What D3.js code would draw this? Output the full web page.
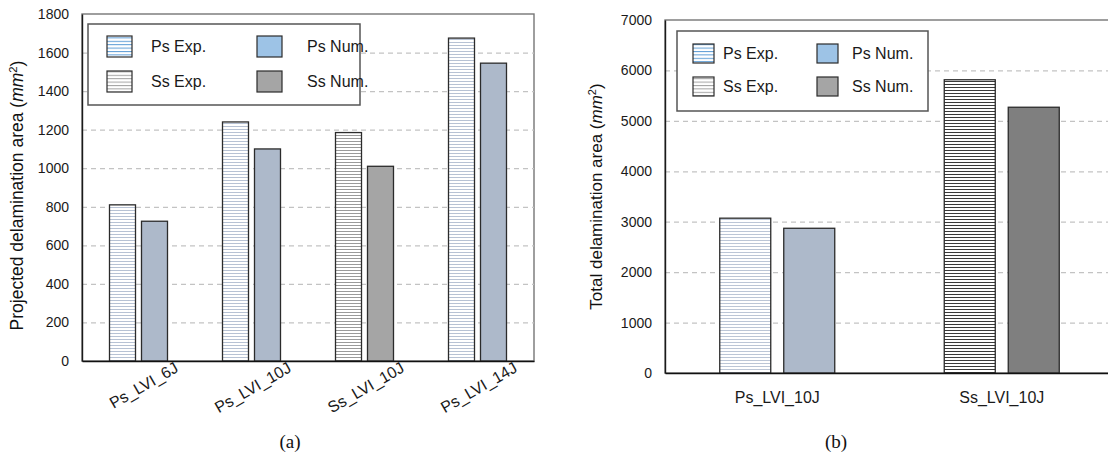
<!DOCTYPE html>
<html>
<head>
<meta charset="utf-8">
<script src="https://cdn.jsdelivr.net/npm/d3@7"></script>
<style>
  html, body { margin: 0; padding: 0; background: #fff; }
  svg { display: block; font-family: "Liberation Sans", Arial, sans-serif; }
</style>
</head>
<body>
<svg id="chart" width="1108" height="459"></svg>
<script>
// ---- data: panel (a) projected delamination area ----
const catsA = ["Ps_LVI_6J", "Ps_LVI_10J", "Ss_LVI_10J", "Ps_LVI_14J"];
const expA = [810, 1240, 1185, 1675];
const numA = [725, 1100, 1010, 1545];
const kindA = ["Ps", "Ps", "Ss", "Ps"];
const ticksA = [0, 200, 400, 600, 800, 1000, 1200, 1400, 1600, 1800];

// ---- data: panel (b) total delamination area ----
const catsB = ["Ps_LVI_10J", "Ss_LVI_10J"];
const expB = [3070, 5815];
const numB = [2870, 5270];
const kindB = ["Ps", "Ss"];
const ticksB = [0, 1000, 2000, 3000, 4000, 5000, 6000, 7000];

const legendItems = [
  { label: "Ps Exp.", swatch: "legPsExp" },
  { label: "Ps Num.", swatch: "legPsNum" },
  { label: "Ss Exp.", swatch: "legSsExp" },
  { label: "Ss Num.", swatch: "legSsNum" }
];

const svg = d3.select("#chart");
const defs = svg.append("defs");

// horizontal hatch fills
function hatch(id, color, step, width) {
  const p = defs.append("pattern").attr("id", id)
    .attr("patternUnits", "userSpaceOnUse")
    .attr("width", 8).attr("height", step);
  p.append("rect").attr("width", 8).attr("height", step).attr("fill", "#fff");
  p.append("rect").attr("y", 0).attr("width", 8).attr("height", width).attr("fill", color);
}
hatch("hPsA", "#b7c2d4", 3, 1);
hatch("hSsA", "#9a9a9a", 3, 1);
hatch("hPsB", "#bcc6d6", 3, 1);
hatch("hSsB", "#3a3a3a", 3, 1);
hatch("hLegPs", "#5b9bd5", 3.4, 1);
hatch("hLegSs", "#a0a0a0", 3.4, 1);

const swatchFill = {
  legPsExp: "url(#hLegPs)", legPsNum: "#9dc3e6",
  legSsExp: "url(#hLegSs)", legSsNum: "#a5a5a5"
};

function panel(cfg) {
  const g = svg.append("g");
  const x = d3.scaleBand().domain(cfg.cats).range([cfg.x0, cfg.x1]).paddingInner(0).paddingOuter(0);
  const bw = x.bandwidth();
  const xs = d3.scaleBand().domain(["exp", "num"])
    .range([(bw - cfg.group) / 2, (bw + cfg.group) / 2])
    .paddingInner(cfg.gapFrac).paddingOuter(0);
  const y = d3.scaleLinear().domain([0, cfg.ticks[cfg.ticks.length - 1]]).range([cfg.y1, cfg.y0]);

  // plot frame
  g.append("rect").attr("x", cfg.x0).attr("y", cfg.y0)
    .attr("width", cfg.x1 - cfg.x0).attr("height", cfg.y1 - cfg.y0)
    .attr("fill", "none").attr("stroke", "#767676").attr("stroke-width", 1.4);

  // dashed gridlines
  const grid = g.append("g").attr("transform", `translate(${cfg.x0},0)`)
    .call(d3.axisLeft(y).tickValues(cfg.ticks.slice(1, -1)).tickSize(-(cfg.x1 - cfg.x0)).tickFormat(""));
  grid.select(".domain").remove();
  grid.selectAll("line").attr("stroke", "#c3c3c3").attr("stroke-width", 1.2).attr("stroke-dasharray", "5,4");

  // bars
  const rows = cfg.cats.map((c, i) => ({ c, exp: cfg.exp[i], num: cfg.num[i], kind: cfg.kind[i] }));
  const grp = g.selectAll(".grp").data(rows).join("g").attr("transform", d => `translate(${x(d.c)},0)`);
  grp.append("rect")
    .attr("x", xs("exp")).attr("width", xs.bandwidth())
    .attr("y", d => y(d.exp)).attr("height", d => y(0) - y(d.exp))
    .attr("fill", d => d.kind === "Ps" ? cfg.psExp : cfg.ssExp)
    .attr("stroke", "#2b2b2b").attr("stroke-width", 1.3);
  grp.append("rect")
    .attr("x", xs("num")).attr("width", xs.bandwidth())
    .attr("y", d => y(d.num)).attr("height", d => y(0) - y(d.num))
    .attr("fill", d => d.kind === "Ps" ? cfg.psNum : cfg.ssNum)
    .attr("stroke", "#2b2b2b").attr("stroke-width", 1.3);

  // y axis
  const ya = g.append("g").attr("transform", `translate(${cfg.x0},0)`)
    .call(d3.axisLeft(y).tickValues(cfg.ticks).tickSize(0).tickPadding(cfg.tickPad).tickFormat(d3.format("d")));
  ya.select(".domain").attr("stroke", "#1a1a1a").attr("stroke-width", 1.4);
  ya.selectAll("text").attr("font-size", 14).attr("fill", "#1a1a1a").attr("font-family", "Liberation Sans, Arial, sans-serif");

  // x axis line
  const xa = g.append("g").attr("transform", `translate(0,${cfg.y1})`)
    .call(d3.axisBottom(x).tickSize(0).tickPadding(0));
  xa.select(".domain").attr("stroke", "#111").attr("stroke-width", 1.6);
  xa.selectAll("text").remove();

  // category labels
  const lab = g.append("g");
  if (cfg.rotate) {
    lab.selectAll("text").data(cfg.cats).join("text")
      .attr("transform", d => `translate(${x(d) + bw / 2 + cfg.labDx},${cfg.y1 + cfg.labDy}) rotate(-30)`)
      .attr("text-anchor", "end").attr("font-size", 16).attr("fill", "#1a1a1a")
      .text(d => d);
  } else {
    lab.selectAll("text").data(cfg.cats).join("text")
      .attr("x", d => x(d) + bw / 2).attr("y", cfg.y1 + cfg.labDy)
      .attr("text-anchor", "middle").attr("font-size", 16).attr("fill", "#1a1a1a")
      .text(d => d);
  }

  // y title
  const t = g.append("text")
    .attr("transform", `translate(${cfg.titleX},${(cfg.y0 + cfg.y1) / 2 + cfg.titleDy}) rotate(-90)`)
    .attr("text-anchor", "middle").attr("font-size", cfg.titleSize).attr("fill", "#111");
  t.append("tspan").text(cfg.title + " (");
  t.append("tspan").attr("font-style", "italic").text("mm");
  t.append("tspan").attr("font-size", cfg.titleSize * 0.65).attr("dy", -6).text("2");
  t.append("tspan").attr("dy", 6).text(")");

  // legend
  const L = cfg.legend;
  const lg = g.append("g");
  lg.append("rect").attr("x", L.x).attr("y", L.y).attr("width", L.w).attr("height", L.h)
    .attr("fill", "#fff").attr("stroke", "#555").attr("stroke-width", 1.5);
  legendItems.forEach((it, i) => {
    const col = i % 2, row = Math.floor(i / 2);
    const sx = L.x + L.sx[col], sy = L.y + L.sy[row];
    lg.append("rect").attr("x", sx).attr("y", sy).attr("width", L.sw).attr("height", L.sh)
      .attr("fill", swatchFill[it.swatch]).attr("stroke", "#2b2b2b").attr("stroke-width", 1.2);
    lg.append("text").attr("x", L.x + L.tx[col]).attr("y", sy + L.sh / 2)
      .attr("dy", "0.36em").attr("font-size", 16).attr("fill", "#1a1a1a").text(it.label);
  });

  // caption
  g.append("text").attr("x", cfg.capX).attr("y", 448).attr("text-anchor", "middle")
    .attr("font-family", "Liberation Serif, Times New Roman, serif").attr("font-size", 19)
    .attr("fill", "#111").text(cfg.caption);
}

panel({
  id: "a", cats: catsA, exp: expA, num: numA, kind: kindA, ticks: ticksA,
  x0: 82, x1: 534, y0: 14, y1: 361, group: 58, gapFrac: 6 / 32, tickPad: 13,
  psExp: "url(#hPsA)", ssExp: "url(#hSsA)", psNum: "#adb9ca", ssNum: "#a5a5a5",
  rotate: true, labDx: 41, labDy: 10,
  title: "Projected delamination area", titleSize: 17.5, titleX: 23, titleDy: 8,
  legend: { x: 88, y: 24, w: 272, h: 81, sx: [19, 169], sy: [12, 47], sw: 25, sh: 21, tx: [63, 219] },
  capX: 290, caption: "(a)"
});

panel({
  id: "b", cats: catsB, exp: expB, num: numB, kind: kindB, ticks: ticksB,
  x0: 665, x1: 1114, y0: 20, y1: 373, group: 115, gapFrac: 13 / 64, tickPad: 13,
  psExp: "url(#hPsB)", ssExp: "url(#hSsB)", psNum: "#adb9ca", ssNum: "#7f7f7f",
  rotate: false, labDx: 0, labDy: 30,
  title: "Total delamination area", titleSize: 17, titleX: 602, titleDy: 0,
  legend: { x: 677, y: 31, w: 251, h: 80, sx: [16, 140], sy: [13, 46], sw: 21, sh: 19, tx: [46, 175] },
  capX: 836, caption: "(b)"
});
</script>
</body>
</html>
